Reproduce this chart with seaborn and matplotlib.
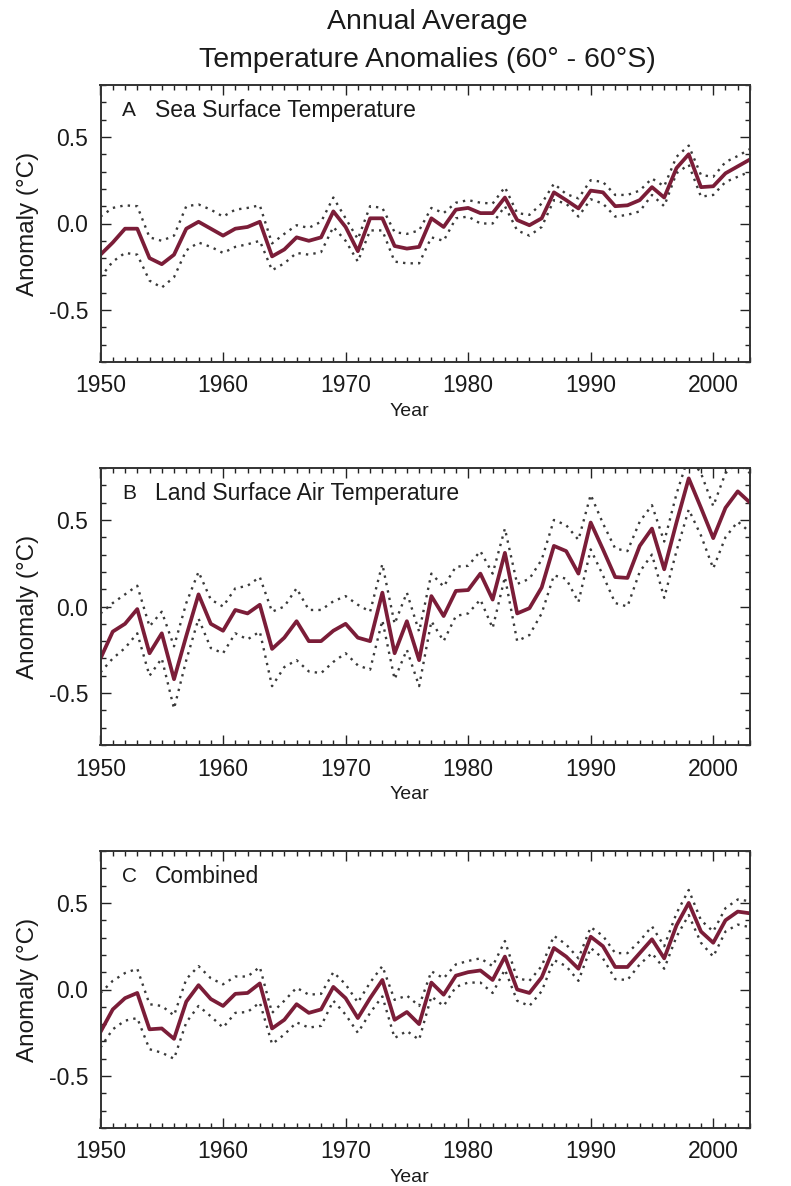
import matplotlib
matplotlib.use("Agg")
import matplotlib.pyplot as plt
import seaborn as sns
import numpy as np
import pandas as pd
from matplotlib.ticker import MultipleLocator

years = list(range(1950, 2004))

sst_mean = [-0.18, -0.11, -0.03, -0.03, -0.20, -0.235, -0.18, -0.03, 0.01, -0.03,
            -0.07, -0.03, -0.02, 0.01, -0.19, -0.15, -0.08, -0.10, -0.08, 0.07,
            -0.02, -0.16, 0.03, 0.03, -0.13, -0.145, -0.135, 0.03, -0.02, 0.08,
            0.09, 0.06, 0.06, 0.15, 0.02, -0.01, 0.03, 0.18, 0.135, 0.087,
            0.19, 0.18, 0.10, 0.105, 0.135, 0.21, 0.15, 0.32, 0.40, 0.21,
            0.215, 0.29, 0.33, 0.37]
sst_upper = [0.04, 0.09, 0.105, 0.10, -0.08, -0.10, -0.07, 0.10, 0.11, 0.08,
             0.04, 0.08, 0.09, 0.105, -0.115, -0.06, -0.01, -0.025, 0.01, 0.15,
             0.03, -0.09, 0.10, 0.09, -0.05, -0.06, -0.04, 0.09, 0.06, 0.12,
             0.135, 0.12, 0.115, 0.21, 0.06, 0.05, 0.115, 0.23, 0.17, 0.145,
             0.25, 0.24, 0.165, 0.165, 0.19, 0.26, 0.215, 0.385, 0.45, 0.28,
             0.27, 0.355, 0.39, 0.43]
sst_lower = [-0.31, -0.22, -0.17, -0.18, -0.33, -0.37, -0.31, -0.155, -0.11, -0.135,
             -0.17, -0.135, -0.12, -0.10, -0.27, -0.23, -0.17, -0.18, -0.165, -0.02,
             -0.10, -0.22, -0.04, -0.04, -0.22, -0.23, -0.23, -0.08, -0.10, 0.03,
             0.04, 0.0, 0.0, 0.10, -0.04, -0.07, -0.02, 0.135, 0.115, 0.04,
             0.14, 0.115, 0.04, 0.05, 0.07, 0.165, 0.10, 0.29, 0.34, 0.155,
             0.165, 0.24, 0.27, 0.30]

land_mean = [-0.30, -0.145, -0.10, -0.015, -0.27, -0.155, -0.42, -0.17, 0.07, -0.10,
             -0.14, -0.02, -0.04, 0.01, -0.245, -0.18, -0.085, -0.20, -0.20, -0.14,
             -0.10, -0.18, -0.20, 0.08, -0.27, -0.085, -0.31, 0.06, -0.055, 0.09,
             0.095, 0.19, 0.04, 0.31, -0.04, -0.01, 0.11, 0.35, 0.32, 0.19,
             0.485, 0.33, 0.17, 0.165, 0.35, 0.45, 0.215, 0.485, 0.74, 0.57,
             0.395, 0.57, 0.665, 0.60]
land_upper = [-0.04, 0.02, 0.07, 0.12, -0.115, -0.03, -0.23, 0.02, 0.20, 0.04,
              0.0, 0.105, 0.12, 0.17, -0.03, 0.0, 0.105, -0.02, -0.02, 0.03,
              0.06, 0.01, -0.03, 0.245, -0.10, 0.08, -0.145, 0.19, 0.115, 0.23,
              0.235, 0.32, 0.19, 0.45, 0.13, 0.16, 0.27, 0.50, 0.47, 0.385,
              0.645, 0.48, 0.335, 0.32, 0.49, 0.585, 0.375, 0.65, 0.87, 0.77,
              0.58, 0.77, 0.83, 0.77]
land_lower = [-0.38, -0.30, -0.24, -0.155, -0.40, -0.30, -0.59, -0.31, -0.07, -0.24,
              -0.27, -0.155, -0.19, -0.145, -0.46, -0.35, -0.31, -0.375, -0.385, -0.32,
              -0.27, -0.34, -0.365, -0.08, -0.42, -0.25, -0.46, -0.085, -0.20, -0.055,
              -0.04, 0.04, -0.125, 0.17, -0.20, -0.165, -0.04, 0.18, 0.16, 0.025,
              0.33, 0.18, 0.02, 0.0, 0.20, 0.30, 0.05, 0.32, 0.56, 0.41,
              0.22, 0.40, 0.49, 0.43]

comb_mean = [-0.245, -0.115, -0.05, -0.02, -0.23, -0.225, -0.285, -0.07, 0.025, -0.055,
             -0.095, -0.025, -0.02, 0.035, -0.225, -0.175, -0.085, -0.135, -0.115, 0.015,
             -0.05, -0.165, -0.05, 0.055, -0.175, -0.13, -0.20, 0.04, -0.03, 0.08,
             0.10, 0.11, 0.055, 0.19, 0.0, -0.02, 0.07, 0.24, 0.19, 0.12,
             0.305, 0.25, 0.13, 0.13, 0.21, 0.29, 0.18, 0.37, 0.50, 0.335,
             0.27, 0.40, 0.45, 0.44]
comb_upper = [-0.02, 0.05, 0.095, 0.12, -0.085, -0.095, -0.15, 0.06, 0.135, 0.065,
              0.03, 0.075, 0.075, 0.13, -0.135, -0.065, 0.01, -0.03, -0.025, 0.10,
              0.03, -0.075, 0.04, 0.135, -0.06, -0.035, -0.095, 0.105, 0.065, 0.145,
              0.165, 0.18, 0.135, 0.28, 0.065, 0.05, 0.135, 0.31, 0.26, 0.18,
              0.36, 0.31, 0.21, 0.21, 0.28, 0.365, 0.25, 0.44, 0.575, 0.40,
              0.335, 0.47, 0.52, 0.51]
comb_lower = [-0.335, -0.23, -0.18, -0.165, -0.345, -0.365, -0.40, -0.19, -0.095, -0.155,
              -0.22, -0.135, -0.13, -0.075, -0.315, -0.26, -0.19, -0.22, -0.21, -0.065,
              -0.145, -0.25, -0.135, -0.04, -0.28, -0.24, -0.29, -0.04, -0.095, 0.015,
              0.04, 0.04, -0.02, 0.115, -0.065, -0.095, -0.01, 0.17, 0.135, 0.05,
              0.24, 0.18, 0.06, 0.055, 0.145, 0.21, 0.12, 0.305, 0.43, 0.27,
              0.19, 0.335, 0.375, 0.36]

panel_letters = ["A", "B", "C"]
panel_titles = ["Sea Surface Temperature", "Land Surface Air Temperature", "Combined"]
y_ticks = [-0.5, 0.0, 0.5]
x_ticks = [1950, 1960, 1970, 1980, 1990, 2000]

sns.set_style("ticks")
plt.rcParams['font.family'] = ['Liberation Sans', 'DejaVu Sans']

W, H = 791, 1186
fig = plt.figure(figsize=(W / 100, H / 100), dpi=100)

maroon = "#7B1D38"
series = [(sst_mean, sst_upper, sst_lower),
          (land_mean, land_upper, land_lower),
          (comb_mean, comb_upper, comb_lower)]
tops = [85, 468, 851]
left_px, right_px = 100.5, 750
hpx = 277

for i, (m, u, l) in enumerate(series):
    top = tops[i]
    ax = fig.add_axes([left_px / W, 1 - (top + hpx) / H, (right_px - left_px) / W, hpx / H])
    df = pd.DataFrame({"year": years, "mean": m, "upper": u, "lower": l})
    sns.lineplot(data=df, x="year", y="upper", ax=ax, color="#3a3a3a",
                 linestyle=(0, (1, 2.2)), linewidth=1.7)
    sns.lineplot(data=df, x="year", y="lower", ax=ax, color="#3a3a3a",
                 linestyle=(0, (1, 2.2)), linewidth=1.7)
    sns.lineplot(data=df, x="year", y="mean", ax=ax, color=maroon, linewidth=2.7)
    ax.set_xlim(1950, 2003)
    ax.set_ylim(-0.8, 0.8)
    ax.set_xticks(x_ticks)
    ax.set_yticks(y_ticks)
    ax.set_yticklabels(["-0.5", "0.0", "0.5"])
    ax.xaxis.set_minor_locator(MultipleLocator(1))
    ax.yaxis.set_minor_locator(MultipleLocator(0.1))
    ax.tick_params(which="both", direction="in", top=True, right=True,
                   color="#222222", width=1.0)
    ax.tick_params(which="major", length=7, labelsize=16.5, pad=9, labelcolor="#1a1a1a")
    ax.tick_params(which="minor", length=3.5)
    for s in ax.spines.values():
        s.set_linewidth(1.4)
        s.set_color("#333333")
    ax.set_xlabel("Year", fontsize=14, color="#1a1a1a")
    ax.set_ylabel("Anomaly (°C)", fontsize=17.5, color="#1a1a1a")
    ax.xaxis.set_label_coords((409 - left_px) / (right_px - left_px), -0.148)
    ax.yaxis.set_label_coords(-0.094, 0.5)
    ax.text(0.033, 0.907, panel_letters[i], transform=ax.transAxes, fontsize=15,
            color="#1a1a1a", va="center", ha="left")
    ax.text(0.084, 0.907, panel_titles[i], transform=ax.transAxes, fontsize=16.5,
            color="#1a1a1a", va="center", ha="left")

fig.text(427 / W, 1 - 22 / H, "Annual Average", ha="center", va="center",
         fontsize=20.5, color="#1a1a1a")
fig.text(427 / W, 1 - 60 / H, "Temperature Anomalies (60° - 60°S)", ha="center",
         va="center", fontsize=20.5, color="#1a1a1a")

fig.savefig("out.png", dpi=100, facecolor="white")
